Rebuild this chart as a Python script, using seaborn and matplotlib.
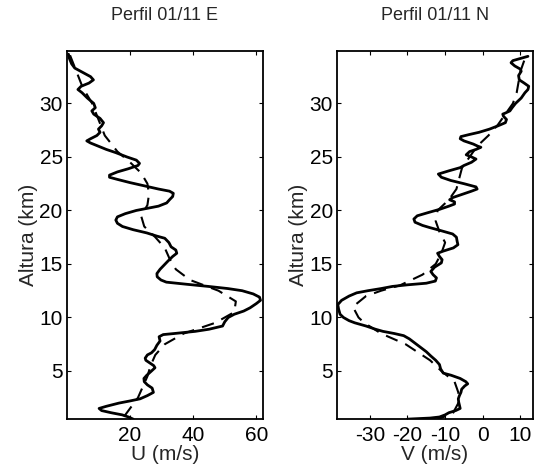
import matplotlib
matplotlib.use("Agg")
import matplotlib.pyplot as plt
import numpy as np
import pandas as pd
import seaborn as sns

# Zonal wind profile (solid = measured, dashed = smoothed)
ALT_U = [34.6, 34.2, 33.7, 33.3, 32.9, 32.5, 32.2, 31.9, 31.6, 31.3, 31.0, 30.5,
         30.0, 29.6, 29.3, 29.0, 28.6, 28.2, 27.9, 27.6, 27.3, 27.0, 26.7, 26.5,
         26.3, 26.0, 25.7, 25.4, 25.0, 24.7, 24.4, 24.2, 23.9, 23.6, 23.3, 23.1,
         22.9, 22.6, 22.3, 22.0, 21.8, 21.6, 21.3, 21.0, 20.7, 20.4, 20.2, 20.0,
         19.7, 19.4, 19.1, 18.8, 18.5, 18.2, 17.9, 17.6, 17.4, 17.0, 16.6, 16.3,
         16.0, 15.7, 15.3, 14.9, 14.5, 14.1, 13.8, 13.5, 13.3, 13.1, 12.9, 12.7,
         12.5, 12.2, 11.9, 11.6, 11.3, 10.9, 10.6, 10.3, 10.0, 9.6, 9.2, 8.9,
         8.7, 8.5, 8.4, 8.2, 7.8, 7.4, 7.0, 6.7, 6.5, 6.2, 6.0, 5.8,
         5.5, 5.3, 5.0, 4.6, 4.3, 4.0, 3.7, 3.4, 3.0, 2.7, 2.4, 2.2,
         2.0, 1.7, 1.5, 1.3, 1.1, 0.9, 0.7, 0.5]
U = [0.5, 0.8, 1.5, 2.5, 5.0, 7.5, 8.4, 7.0, 4.5, 3.5, 4.8, 6.5,
     8.5, 9.0, 7.9, 8.5, 10.5, 11.6, 11.0, 10.0, 10.5, 9.5, 7.5, 6.3,
     7.5, 10.0, 12.5, 15.5, 19.0, 22.0, 23.0, 22.5, 19.5, 16.0, 13.5, 13.5,
     16.0, 20.0, 24.5, 29.0, 32.5, 33.7, 33.5, 32.5, 31.6, 29.0, 25.5, 22.0,
     18.5, 16.0, 15.5, 16.0, 17.6, 21.0, 25.3, 28.5, 31.0, 32.3, 33.0, 34.5,
     34.8, 33.5, 32.1, 30.8, 29.5, 28.5, 28.6, 29.8, 31.5, 38.0, 44.8, 51.0,
     55.5, 59.0, 61.0, 61.3, 60.0, 58.0, 56.0, 53.0, 51.1, 50.0, 49.3, 45.0,
     40.6, 34.0, 30.5, 29.2, 29.5, 28.5, 27.8, 26.8, 25.5, 24.8, 25.0, 26.0,
     27.5, 27.9, 26.8, 25.3, 24.4, 24.5, 25.5, 27.0, 27.4, 25.5, 23.2, 20.0,
     16.5, 12.5, 10.2, 11.0, 14.0, 17.5, 19.5, 21.0]

ALT_U_SMOOTH = [34.5, 33.0, 31.5, 30.0, 28.5, 27.0, 25.5, 24.5, 23.5, 22.5, 21.5,
                20.5, 19.5, 18.5, 17.5, 16.5, 15.5, 14.5, 13.5, 12.5, 11.5, 10.5,
                9.5, 8.5, 7.5, 6.5, 5.5, 4.5, 3.5, 2.5, 1.5, 0.7]
U_SMOOTH = [1.0, 3.0, 5.0, 8.0, 10.0, 12.0, 16.0, 20.0, 23.5, 25.5, 26.0,
            25.5, 23.5, 24.5, 28.0, 31.0, 32.5, 34.5, 39.0, 48.0, 53.5, 53.0,
            47.0, 37.0, 31.0, 28.0, 26.5, 25.5, 24.0, 22.5, 20.0, 18.0]

# Meridional wind profile
ALT_V = [34.4, 34.2, 34.0, 33.8, 33.5, 33.2, 33.0, 32.6, 32.2, 31.9, 31.6, 31.3,
         31.0, 30.5, 30.0, 29.6, 29.3, 29.1, 29.0, 28.8, 28.5, 28.2, 27.9, 27.6,
         27.3, 27.1, 26.9, 26.7, 26.5, 26.2, 26.0, 25.9, 25.7, 25.5, 25.2, 25.0,
         24.8, 24.5, 24.2, 24.0, 23.7, 23.4, 23.1, 22.8, 22.5, 22.2, 22.0, 21.8,
         21.5, 21.2, 21.0, 20.8, 20.6, 20.4, 20.1, 19.8, 19.5, 19.2, 18.9, 18.6,
         18.4, 18.1, 17.8, 17.5, 17.1, 16.8, 16.5, 16.2, 16.0, 15.7, 15.4, 15.1,
         14.7, 14.3, 14.0, 13.7, 13.4, 13.2, 13.05, 12.9, 12.7, 12.5, 12.3, 12.0,
         11.6, 11.2, 10.8, 10.3, 10.0, 9.7, 9.5, 9.2, 8.9, 8.7, 8.5, 8.3,
         8.0, 7.6, 7.2, 6.8, 6.4, 6.0, 5.6, 5.2, 4.8, 4.6, 4.3, 4.0,
         3.8, 3.6, 3.3, 3.0, 2.7, 2.4, 2.1, 1.8, 1.5, 1.3, 1.1, 0.9,
         0.7, 0.6, 0.5]
V = [12.0, 10.0, 8.0, 7.5, 8.5, 10.0, 10.2, 9.5, 9.7, 11.0, 12.2, 12.0,
     11.2, 10.2, 8.7, 7.8, 7.2, 6.0, 5.3, 5.5, 6.3, 6.0, 4.0, 1.8,
     -1.0, -3.5, -5.8, -6.0, -5.0, -2.5, -1.3, -0.5, -1.8, -3.5, -4.4, -3.0,
     -1.8, -3.0, -5.0, -6.0, -9.0, -11.8, -11.0, -8.5, -5.0, -1.8, -1.5, -3.0,
     -5.5, -8.0, -8.8, -7.5, -7.5, -9.0, -11.5, -14.5, -17.4, -18.3, -18.0, -16.0,
     -14.1, -11.0, -8.0, -7.0, -6.8, -6.6, -7.8, -10.5, -12.0, -11.5, -10.8, -11.0,
     -12.8, -13.8, -13.2, -12.3, -12.6, -15.0, -20.0, -24.0, -27.0, -30.5, -33.5, -35.5,
     -37.5, -38.5, -38.3, -37.9, -37.0, -35.5, -34.0, -31.0, -28.5, -26.5, -23.5, -21.0,
     -19.5, -18.0, -16.5, -15.0, -13.8, -12.5, -11.5, -11.2, -10.5, -8.4, -6.0, -4.5,
     -4.0, -4.8, -5.6, -5.8, -6.2, -6.5, -6.4, -6.2, -6.0, -7.2, -9.0, -10.0,
     -11.5, -14.0, -20.0]

ALT_V_SMOOTH = [34.0, 33.0, 32.0, 31.0, 30.0, 29.0, 28.0, 27.0, 26.0, 25.0, 24.0,
                22.0, 21.0, 20.0, 19.0, 18.0, 17.0, 16.0, 15.0, 14.0, 13.0, 12.5,
                12.0, 11.0, 10.0, 9.5, 8.5, 7.5, 6.0, 5.0, 4.0, 3.0, 2.0, 1.0, 0.5]
V_SMOOTH = [11.0, 10.0, 9.5, 9.0, 8.0, 6.0, 4.0, 1.5, -1.5, -3.5, -5.5,
            -7.0, -9.0, -12.0, -12.5, -11.5, -10.0, -11.0, -12.5, -16.0, -22.0, -27.0,
            -31.0, -34.5, -33.0, -31.5, -27.0, -20.5, -14.0, -11.0, -7.5, -6.5, -6.5, -8.0, -12.0]

TITLES = ["Perfil 01/11 E", "Perfil 01/11 N"]
XLABELS = ["U (m/s)", "V (m/s)"]
XTICKS = [[20, 40, 60], [-30, -20, -10, 0, 10]]
YTICKS = [5, 10, 15, 20, 25, 30]

sns.set_style("ticks")
plt.rcParams["font.family"] = ["Liberation Sans", "DejaVu Sans"]
plt.rcParams["axes.unicode_minus"] = False

fig = plt.figure(figsize=(5.35, 4.72), dpi=100)
ax1 = fig.add_axes([0.125, 0.112, 0.366, 0.780])
ax2 = fig.add_axes([0.630, 0.112, 0.366, 0.780])

profiles = [
    (ax1, U, ALT_U, U_SMOOTH, ALT_U_SMOOTH, (0, 62)),
    (ax2, V, ALT_V, V_SMOOTH, ALT_V_SMOOTH, (-38.7, 13.3)),
]

for i, (ax, x, z, xs, zs, xlim) in enumerate(profiles):
    sns.lineplot(x=xs, y=zs, sort=False, estimator=None, ax=ax,
                 color="black", linewidth=1.5, linestyle=(0, (6, 4)))
    sns.lineplot(x=x, y=z, sort=False, estimator=None, ax=ax,
                 color="black", linewidth=2.0)

    ax.set_xlim(*xlim)
    ax.set_ylim(0.5, 34.9)
    ax.set_xticks(XTICKS[i])
    ax.set_yticks(YTICKS)
    ax.tick_params(direction="in", top=True, right=True, length=3,
                   width=0.8, labelsize=15, pad=3, colors="black")
    ax.tick_params(axis="x", pad=5)
    for s in ax.spines.values():
        s.set_linewidth(1.3)
        s.set_color("black")
    ax.set_title(TITLES[i], fontsize=13, pad=22)
    ax.set_xlabel(XLABELS[i], fontsize=15, labelpad=0)
    ax.set_ylabel("Altura (km)", fontsize=15, labelpad=1)

fig.savefig("out.png", dpi=100)
